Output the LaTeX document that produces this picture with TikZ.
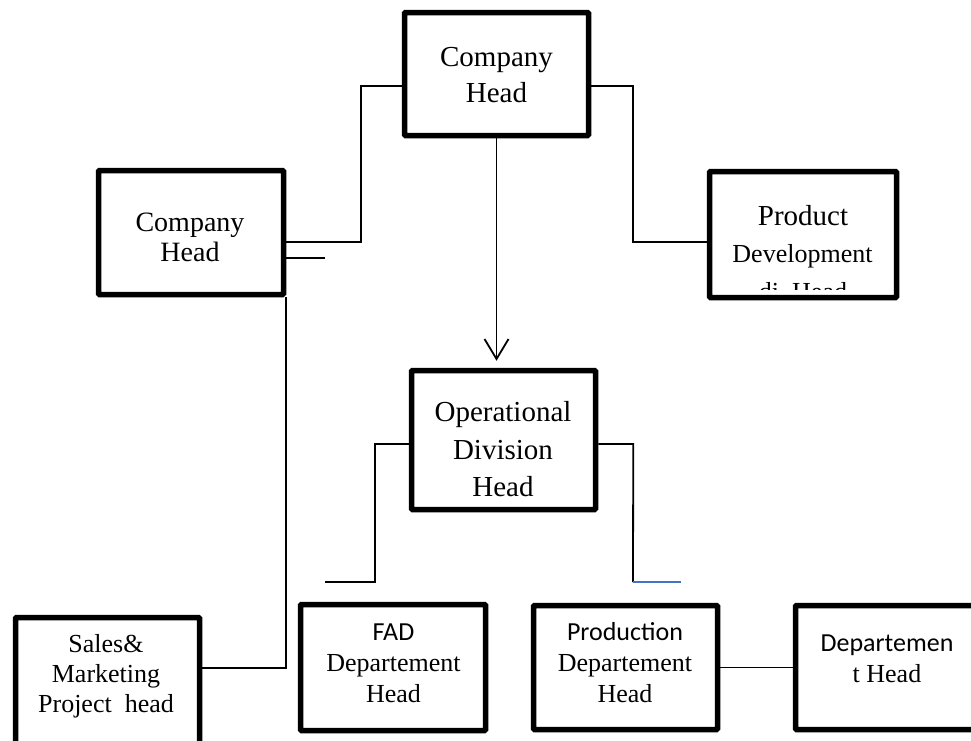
\documentclass[tikz,border=0pt]{standalone}
\usepackage{fontspec}
\setmainfont{Liberation Serif}
\newfontfamily\sansf{Carlito}
\usetikzlibrary{arrows.meta}
\definecolor{wordblue}{RGB}{68,114,196}
\tikzset{
  box/.style={draw, line width=5.5pt, rounded corners=1pt, inner sep=0pt, fill=white},
  conn/.style={draw, line width=1.8pt},
  arr/.style={conn, -{Straight Barb[length=20pt,width=24pt,line width=1.8pt]}},
  txt/.style={align=center, inner sep=0pt},
}
\begin{document}
\begin{tikzpicture}[x=1pt,y=-1pt]
\useasboundingbox (0,0) rectangle (971,740);
\clip (0,0) rectangle (971,740);
\fill[white] (0,0) rectangle (971,740);

% boxes
\node[box, minimum width=184, minimum height=123] (top)   at (496.5,74)    {};
\node[box, minimum width=185, minimum height=124] (lbox)  at (191,232.5)   {};
\node[box, minimum width=187, minimum height=126] (pbox)  at (803,234.5)   {};
\node[box, minimum width=184, minimum height=139] (ope)   at (503.5,440)   {};
\node[box, minimum width=184, minimum height=142.5] (sales) at (107.5,688.75) {};
\node[box, minimum width=185, minimum height=126] (fad)   at (393,667.5)   {};
\node[box, minimum width=184, minimum height=124] (pro)   at (625.5,667.5) {};
\node[box, minimum width=200, minimum height=124] (dep)   at (895.5,667.5) {};

% texts
\node[txt, font=\fontsize{29}{36}\selectfont] (topT) at (496.5,75) {Company\\Head};
\node[txt, font=\fontsize{28}{30}\selectfont] (lT) at (190,237.5) {Company\\Head};
\begin{scope}
  \clip (710,172) rectangle (896,289);
  \node[inner sep=0pt, anchor=base, font=\fontsize{29}{34}\selectfont] (pT1) at (803,225) {Product};
  \node[inner sep=0pt, anchor=base, font=\fontsize{26}{31}\selectfont] (pT2) at (802.5,262) {Development};
  \node[inner sep=0pt, anchor=base, font=\fontsize{26}{31}\selectfont] (pT3) at (803,300) {di\ \ Head};
\end{scope}
\node[txt, font=\fontsize{29}{37.5}\selectfont] (opeT) at (503,449.5) {Operational\\Division\\Head};
\node[txt, font=\fontsize{26}{30}\selectfont] (salesT) at (106,676) {Sales\&\\Marketing\\Project~ head};
\node[txt, font=\fontsize{26}{31}\selectfont] (fadT) at (393.5,663) {{\sansf FAD}\\Departement\\Head};
\node[txt, font=\fontsize{26}{31}\selectfont] (proT) at (625,663) {{\sansf Production}\\Departement\\Head};
\node[txt, font=\fontsize{26}{31}\selectfont] (depT) at (887,659) {{\sansf Departemen}\\t Head};

% connectors
\draw[conn] ([yshift=-12pt]top.west) -- ++(-41,0) |- ([yshift=-9.5pt]lbox.east);
\coordinate (lshort) at (325,258);
\draw[conn] ([yshift=-25.5pt]lbox.east) -- (lshort);
\draw[conn] ([yshift=-12pt]top.east) -- ++(42,0) |- ([yshift=-7.5pt]pbox.west);
\draw[arr, shorten >=7pt] (top.south) -- (top.south |- ope.north);
\coordinate (cL) at (325,582);
\draw[conn] ([yshift=-4pt]ope.west) -- ++(-34,0) |- (cL);
\coordinate (cRc) at (633,582);
\coordinate (cR) at (681,582);
\draw[conn] ([yshift=-4pt]ope.east) -- ++(35,0) -- (cRc);
\draw[line width=1.8pt, wordblue] (cRc) -- (cR);
\draw[conn] (lbox.south east) |- ([yshift=20.75pt]sales.east);
\draw[conn] (pro.east) -- (dep.west);
\end{tikzpicture}
\end{document}
